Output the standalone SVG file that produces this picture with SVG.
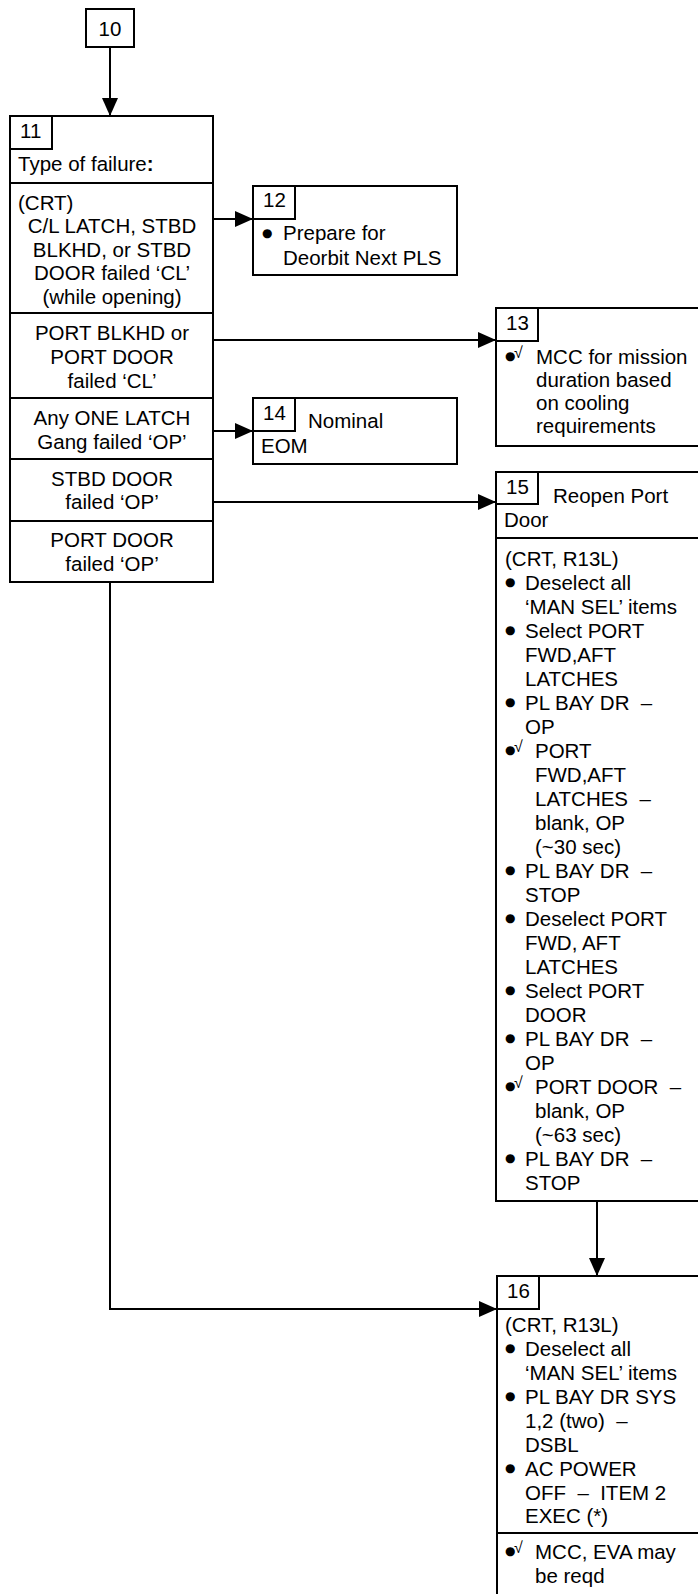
<svg xmlns="http://www.w3.org/2000/svg" width="698" height="1594" viewBox="0 0 698 1594">
<defs>
<style>
text { font-family: "Liberation Sans", Arial, sans-serif; font-size: 20.5px; fill: #000; white-space: pre; }
.c { text-anchor: middle; }
.b { font-family: "DejaVu Sans", sans-serif; font-size: 12px; }
.k { font-size: 16px; }
.box { fill: #fff; stroke: #000; stroke-width: 2; }
.ln { fill: none; stroke: #000; stroke-width: 2; }
.edge { fill: none; stroke: #000; stroke-width: 2; marker-end: url(#arr); }
</style>
<marker id="arr" viewBox="0 0 18 16" refX="18" refY="8" markerWidth="18" markerHeight="16" markerUnits="userSpaceOnUse" orient="auto">
<path d="M0,0 L18,8 L0,16 Z" fill="#000"/>
</marker>
</defs>
<rect width="698" height="1594" fill="#fff"/>

<g id="connectors">
<path class="edge" d="M110,47 V116"/>
<path class="edge" d="M213,219 H253"/>
<path class="edge" d="M213,340 H496"/>
<path class="edge" d="M213,431 H253"/>
<path class="edge" d="M213,502 H496"/>
<path class="edge" d="M597,1201 V1276"/>
<path class="edge" d="M110,582 V1309 H497"/>
</g>

<g id="node10">
<rect class="box" x="86" y="9" width="48" height="38"/>
<text class="c" x="110" y="36">10</text>
</g>

<g id="node11">
<rect class="box" x="10" y="116" width="203" height="466"/>
<rect class="box" x="10" y="116" width="42" height="33"/>
<text x="20" y="138">11</text>
<text x="18" y="171">Type of failure<tspan font-weight="bold">:</tspan></text>
<path class="ln" d="M10,183 H213 M10,313 H213 M10,398 H213 M10,459 H213 M10,521 H213"/>
<text x="18" y="210">(CRT)</text>
<text class="c" x="112" y="233">C/L LATCH, STBD</text>
<text class="c" x="112" y="257">BLKHD, or STBD</text>
<text class="c" x="112" y="280">DOOR failed ‘CL’</text>
<text class="c" x="112" y="304">(while opening)</text>
<text class="c" x="112" y="340">PORT BLKHD or</text>
<text class="c" x="112" y="364">PORT DOOR</text>
<text class="c" x="112" y="388">failed ‘CL’</text>
<text class="c" x="112" y="425">Any ONE LATCH</text>
<text class="c" x="112" y="449">Gang failed ‘OP’</text>
<text class="c" x="112" y="486">STBD DOOR</text>
<text class="c" x="112" y="509">failed ‘OP’</text>
<text class="c" x="112" y="547">PORT DOOR</text>
<text class="c" x="112" y="571">failed ‘OP’</text>
</g>

<g id="node12">
<rect class="box" x="253" y="186" width="204" height="89"/>
<rect class="box" x="253" y="186" width="42" height="33"/>
<text x="263" y="207">12</text>
<text class="b" x="262" y="237">●</text>
<text x="283" y="240">Prepare for</text>
<text x="283" y="265">Deorbit Next PLS</text>
</g>

<g id="node13">
<rect class="box" x="496" y="308" width="220" height="138"/>
<rect class="box" x="496" y="308" width="42" height="33"/>
<text x="506" y="330">13</text>
<text class="b" x="505" y="360">●</text>
<text class="k" x="514" y="358">√</text>
<text x="536" y="364">MCC for mission</text>
<text x="536" y="387">duration based</text>
<text x="536" y="410">on cooling</text>
<text x="536" y="433">requirements</text>
</g>

<g id="node14">
<rect class="box" x="253" y="398" width="204" height="66"/>
<rect class="box" x="253" y="398" width="42" height="33"/>
<text x="263" y="420">14</text>
<text x="308" y="428">Nominal</text>
<text x="261" y="453">EOM</text>
</g>

<g id="node15">
<rect class="box" x="496" y="472" width="220" height="729"/>
<rect class="box" x="496" y="472" width="42" height="32"/>
<text x="506" y="494">15</text>
<text x="553" y="503">Reopen Port</text>
<text x="504" y="527">Door</text>
<path class="ln" d="M496,538 H716"/>
<text x="505" y="566">(CRT, R13L)</text>
<text class="b" x="505" y="586">●</text><text x="525" y="590">Deselect all</text>
<text x="525" y="614">‘MAN SEL’ items</text>
<text class="b" x="505" y="634">●</text><text x="525" y="638">Select PORT</text>
<text x="525" y="662">FWD,AFT</text>
<text x="525" y="686">LATCHES</text>
<text class="b" x="505" y="706">●</text><text x="525" y="710">PL BAY DR  –</text>
<text x="525" y="734">OP</text>
<text class="b" x="505" y="754">●</text><text class="k" x="514" y="752">√</text><text x="535" y="758">PORT</text>
<text x="535" y="782">FWD,AFT</text>
<text x="535" y="806">LATCHES  –</text>
<text x="535" y="830">blank, OP</text>
<text x="535" y="854">(~30 sec)</text>
<text class="b" x="505" y="874">●</text><text x="525" y="878">PL BAY DR  –</text>
<text x="525" y="902">STOP</text>
<text class="b" x="505" y="922">●</text><text x="525" y="926">Deselect PORT</text>
<text x="525" y="950">FWD, AFT</text>
<text x="525" y="974">LATCHES</text>
<text class="b" x="505" y="994">●</text><text x="525" y="998">Select PORT</text>
<text x="525" y="1022">DOOR</text>
<text class="b" x="505" y="1042">●</text><text x="525" y="1046">PL BAY DR  –</text>
<text x="525" y="1070">OP</text>
<text class="b" x="505" y="1090">●</text><text class="k" x="514" y="1088">√</text><text x="535" y="1094">PORT DOOR  –</text>
<text x="535" y="1118">blank, OP</text>
<text x="535" y="1142">(~63 sec)</text>
<text class="b" x="505" y="1162">●</text><text x="525" y="1166">PL BAY DR  –</text>
<text x="525" y="1190">STOP</text>
</g>

<g id="node16">
<rect class="box" x="497" y="1276" width="220" height="340"/>
<rect class="box" x="497" y="1276" width="42" height="33"/>
<text x="507" y="1298">16</text>
<text x="505" y="1332">(CRT, R13L)</text>
<text class="b" x="505" y="1352">●</text><text x="525" y="1356">Deselect all</text>
<text x="525" y="1380">‘MAN SEL’ items</text>
<text class="b" x="505" y="1400">●</text><text x="525" y="1404">PL BAY DR SYS</text>
<text x="525" y="1428">1,2 (two)  –</text>
<text x="525" y="1452">DSBL</text>
<text class="b" x="505" y="1472">●</text><text x="525" y="1476">AC POWER</text>
<text x="525" y="1500">OFF  –  ITEM 2</text>
<text x="525" y="1523">EXEC (*)</text>
<path class="ln" d="M497,1533 H717"/>
<text class="b" x="505" y="1555">●</text><text class="k" x="514" y="1553">√</text><text x="535" y="1559">MCC, EVA may</text>
<text x="535" y="1583">be reqd</text>
</g>
</svg>
